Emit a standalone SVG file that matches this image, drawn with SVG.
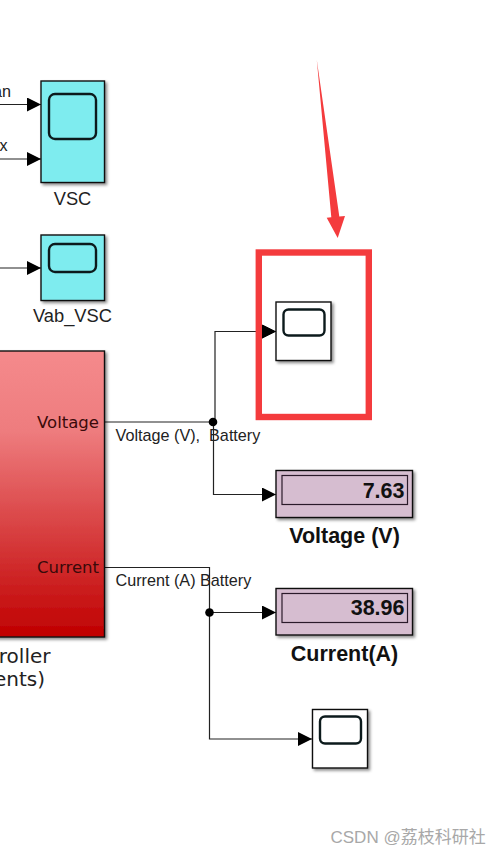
<svg xmlns="http://www.w3.org/2000/svg" width="500" height="854" viewBox="0 0 500 854">
  <defs>
    <linearGradient id="redGrad" x1="0" y1="0" x2="0" y2="1">
      <stop offset="0" stop-color="#f58a8c"/>
      <stop offset="0.28" stop-color="#ee7c7e"/>
      <stop offset="1" stop-color="#c00000"/>
    </linearGradient>
    <filter id="shadow" x="-20%" y="-20%" width="140%" height="140%">
      <feDropShadow dx="2" dy="2" stdDeviation="1.5" flood-color="#000" flood-opacity="0.45"/>
    </filter>
    <marker id="arrow" markerUnits="userSpaceOnUse" markerWidth="15" markerHeight="15" refX="14" refY="7" orient="auto">
      <path d="M0 0L14 7L0 14Z" fill="#000"/>
    </marker>
  </defs>
  <style>
    .block { stroke: #111; stroke-width: 1.4; filter: url(#shadow); }
    .cyan { fill: #7eecef; }
    .white { fill: #fff; }
    .lilac { fill: #d6bdd0; }
    .screen { fill: none; stroke: #0c1a1c; stroke-width: 2.4; }
    .inner { fill: none; stroke: #2a1a2a; stroke-width: 1.2; }
    .wire { fill: none; stroke: #222; stroke-width: 1.2; }
    .lab { font-family: "Liberation Sans", Arial, sans-serif; fill: #222; }
    .sig { font-size: 16.2px; }
    .name { font-size: 18.3px; text-anchor: middle; }
    .val { font-size: 21.5px; font-weight: bold; text-anchor: end; fill: #111; }
    .cap { font-size: 21.5px; font-weight: bold; text-anchor: middle; fill: #111; }
    .port { font-family: "DejaVu Sans", Verdana, sans-serif; font-size: 16.5px; text-anchor: end; fill: #3a0a0a; }
    .ctl { font-family: "DejaVu Sans", Verdana, sans-serif; font-size: 20px; fill: #222; }
  </style>

  <g id="connectors">
    <path class="wire" d="M0 104.5H41" marker-end="url(#arrow)"/>
    <path class="wire" d="M0 159H41" marker-end="url(#arrow)"/>
    <path class="wire" d="M0 268H41" marker-end="url(#arrow)"/>
    <path class="wire" d="M104.5 422H213"/>
    <path class="wire" d="M215 422V331.5H276" marker-end="url(#arrow)"/>
    <path class="wire" d="M213.5 422V494.5H276" marker-end="url(#arrow)"/>
    <path class="wire" d="M104.5 567.5H209.5V739H312" marker-end="url(#arrow)"/>
    <path class="wire" d="M209.5 612.5H276" marker-end="url(#arrow)"/>
    <circle cx="213" cy="422" r="4.3" fill="#000"/>
    <circle cx="209.5" cy="612.5" r="4.3" fill="#000"/>
  </g>

  <g id="label-an"><text class="lab sig" x="11" y="97" text-anchor="end">an</text></g>
  <g id="label-x"><text class="lab sig" x="7.5" y="151" text-anchor="end">x</text></g>

  <g id="scope-vsc">
    <rect class="block cyan" x="41" y="81" width="63.5" height="101.5"/>
    <rect class="screen" x="49" y="94" width="47" height="45" rx="6"/>
    <text class="lab name" x="72.5" y="204.5">VSC</text>
  </g>

  <g id="scope-vab">
    <rect class="block cyan" x="41" y="235" width="63.5" height="65.5"/>
    <rect class="screen" x="49" y="244" width="47" height="28" rx="6"/>
    <text class="lab name" x="72.5" y="322">Vab_VSC</text>
  </g>

  <g id="controller">
    <rect class="block" x="-4" y="351" width="108.5" height="286" fill="url(#redGrad)"/>
    <text class="port" x="99" y="428">Voltage</text>
    <text class="port" x="99" y="573">Current</text>
    <text class="ctl" x="50.5" y="662.5" text-anchor="end">roller</text>
    <text class="ctl" x="45" y="686" text-anchor="end">ents)</text>
  </g>

  <g id="labels">
    <text class="lab sig" x="115.5" y="441" xml:space="preserve">Voltage (V),  Battery</text>
    <text class="lab sig" x="115.5" y="586">Current (A) Battery</text>
  </g>

  <g id="scope-battery-v">
    <rect class="block white" x="276" y="302" width="55" height="58.5"/>
    <rect class="screen" x="283.5" y="309.5" width="41" height="26" rx="5"/>
  </g>

  <g id="display-voltage">
    <rect class="block lilac" x="276" y="470.5" width="136.5" height="47"/>
    <rect class="inner" x="282" y="475.5" width="125.5" height="29"/>
    <text class="lab val" x="404.5" y="497.5">7.63</text>
    <text class="lab cap" x="344.5" y="543">Voltage (V)</text>
  </g>

  <g id="display-current">
    <rect class="block lilac" x="276" y="588.5" width="136.5" height="46.5"/>
    <rect class="inner" x="282" y="593.5" width="125.5" height="29"/>
    <text class="lab val" x="404.5" y="615">38.96</text>
    <text class="lab cap" x="344.5" y="661">Current(A)</text>
  </g>

  <g id="scope-battery-i">
    <rect class="block white" x="312.5" y="709.5" width="55" height="58.5"/>
    <rect class="screen" x="320" y="716.5" width="41" height="27" rx="5"/>
  </g>

  <g id="highlight">
    <rect x="258.8" y="252.5" width="110" height="164.5" fill="none" stroke="#f43b3d" stroke-width="6.4"/>
    <path d="M316.8 60L339.3 216.5L345 216L337.7 238L326.7 217.7L331.3 217.3Z" fill="#f43b3d"/>
    <path d="M262 324.5L276 331.5L262 338.5Z" fill="#000"/>
  </g>

  <g id="watermark">
    <text x="330.5" y="843" font-family="'Liberation Sans','Noto Sans CJK SC',sans-serif" font-size="17" fill="#a8a8a8">CSDN @荔枝科研社</text>
  </g>
</svg>
